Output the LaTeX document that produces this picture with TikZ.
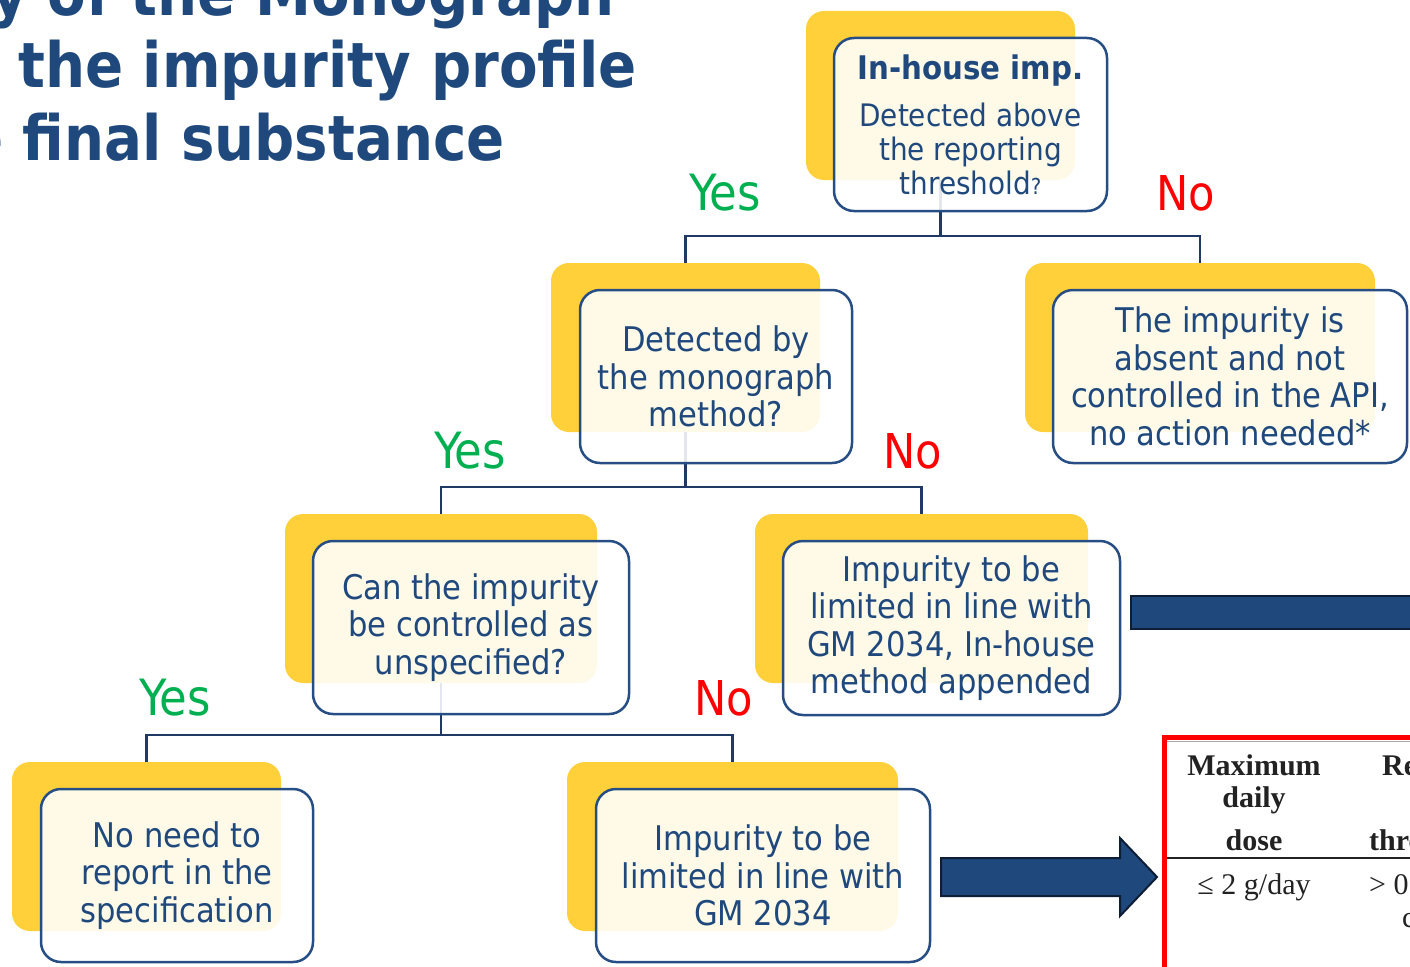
\documentclass[tikz,border=0pt]{standalone}
\usepackage{fontspec}
\setmainfont{DejaVu Sans Condensed}
\newfontfamily\tablefont{Liberation Serif}
\definecolor{txtblue}{HTML}{1F497D}
\definecolor{boxline}{HTML}{264E84}
\definecolor{connblue}{HTML}{1F3864}
\definecolor{boxyellow}{HTML}{FFD03A}
\definecolor{yesgreen}{HTML}{00B050}
\definecolor{nored}{HTML}{FF0000}
\definecolor{arrowfill}{HTML}{1F497D}
\definecolor{arrowedge}{HTML}{0E1E36}
\definecolor{tabtext}{HTML}{222222}
\begin{document}
\begin{tikzpicture}[x=1pt,y=-1pt,
  backbox/.style={fill=boxyellow, rounded corners=18pt, inner sep=0pt},
  frontbox/.style={draw=boxline, line width=2.5pt, fill=white, fill opacity=0.88,
    text opacity=1, rounded corners=20pt, text=txtblue, align=center, inner sep=0pt,
    font=\fontsize{34}{37.5}\selectfont},
  conn/.style={draw=connblue, line width=2.5pt},
  yeslbl/.style={text=yesgreen, inner sep=0pt, font=\fontsize{50}{54}\selectfont},
  nolbl/.style={text=nored, inner sep=0pt, font=\fontsize{48}{52}\selectfont},
  titleline/.style={text=txtblue, inner sep=0pt, anchor=base east,
    font=\bfseries\fontsize{62.5}{72}\selectfont},
  tabhead/.style={text=tabtext, inner sep=0pt, anchor=base,
    font=\tablefont\bfseries\fontsize{30}{33}\selectfont},
  tabbody/.style={text=tabtext, inner sep=0pt, anchor=base,
    font=\tablefont\fontsize{30}{33}\selectfont},
  blockarrow/.style={fill=arrowfill, draw=arrowedge, line width=2pt, line join=miter}
]
\useasboundingbox (0,0) rectangle (1410,966);
\clip (0,0) rectangle (1410,966);

% title
\node[titleline] (t1) at (615,16) {y of the Monograph};
\node[titleline] (t2) at (637,88) {the impurity profile};
\node[titleline] (t3) at (505,160) {e final substance};

% yellow backing panels
\node[backbox, minimum width=269pt, minimum height=169pt] (y1) at (940.5,95.5) {};
\node[backbox, minimum width=269pt, minimum height=169pt] (y2) at (685.5,347.5) {};
\node[backbox, minimum width=350pt, minimum height=169pt] (y3) at (1200,347.5) {};
\node[backbox, minimum width=312pt, minimum height=169pt] (y4) at (441,598.5) {};
\node[backbox, minimum width=333pt, minimum height=169pt] (y5) at (921.5,598.5) {};
\node[backbox, minimum width=269pt, minimum height=169pt] (y6) at (146.5,846.5) {};
\node[backbox, minimum width=331pt, minimum height=169pt] (y7) at (732.5,846.5) {};

% decision tree connectors
\coordinate (j1) at (940.5,236);
\coordinate (j2) at (685.5,487);
\coordinate (j3) at (441,735);
\draw[conn] (y1.south) -- (j1);
\draw[conn] (j1) -| (y2.north);
\draw[conn] (j1) -| (y3.north);
\draw[conn] (y2.south) -- (j2);
\draw[conn] (j2) -| (y4.north);
\draw[conn] (j2) -| (y5.north);
\draw[conn] (y4.south) -- (j3);
\draw[conn] (j3) -| (y6.north);
\draw[conn] (j3) -| (y7.north);

% question and outcome boxes
\node[frontbox, minimum width=273pt, minimum height=173pt,
  font=\fontsize{31}{34}\selectfont] (b1) at (970.5,124.5)
  {{\bfseries\fontsize{32.5}{34}\selectfont In-house imp.}\\[13pt]Detected above\\the reporting\\threshold{\fontsize{22}{24}\selectfont ?}};
\node[frontbox, minimum width=272pt, minimum height=173pt] (b2) at (716,376.5)
  {Detected by\\the monograph\\method?};
\node[frontbox, minimum width=354pt, minimum height=173pt] (b3) at (1230,376.5)
  {The impurity is\\absent and not\\controlled in the API,\\no action needed*};
\node[frontbox, minimum width=316pt, minimum height=173pt] (b4) at (471,627.5)
  {Can the impurity\\be controlled as\\unspecified?};
\node[frontbox, minimum width=337pt, minimum height=174pt] (b5) at (951.5,628)
  {Impurity to be\\limited in line with\\GM 2034, In-house\\method appended};
\node[frontbox, minimum width=272pt, minimum height=173pt] (b6) at (177,875.5)
  {No need to\\report in the\\specification};
\node[frontbox, minimum width=334pt, minimum height=173pt] (b7) at (763,875.5)
  {Impurity to be\\limited in line with\\GM 2034};

% branch labels
\node[yeslbl] (yes1) at (725,193) {Yes};
\node[nolbl] (no1) at (1186,193) {No};
\node[yeslbl] (yes2) at (470,451) {Yes};
\node[nolbl] (no2) at (913,451) {No};
\node[yeslbl] (yes3) at (175,698) {Yes};
\node[nolbl] (no3) at (724,698) {No};

% block arrows
\draw[blockarrow] (1131,596) -- (1430,596) -- (1430,629) -- (1131,629) -- cycle;
\draw[blockarrow] (941,858) -- (1120,858) -- (1120,838) -- (1157,877)
  -- (1120,916) -- (1120,896) -- (941,896) -- cycle;

% threshold table
\draw[gray!70, line width=1pt] (1166,741) -- (1420,741);
\draw[tabtext, line width=1.8pt] (1166,858) -- (1420,858);
\draw[nored, line width=5pt] (1164,1000) -- (1164,737) -- (1420,737);
\node[tabhead] (h1) at (1254,775) {Maximum};
\node[tabhead] (h2) at (1254,807) {daily};
\node[tabhead] (h3) at (1254,850) {dose};
\node[tabhead, anchor=base west] (h4) at (1382,775) {Reporting};
\node[tabhead, anchor=base west] (h5) at (1369,850) {threshold};
\node[tabbody] (r1) at (1254,894) {≤ 2 g/day};
\node[tabbody, anchor=base west] (r2) at (1369,894) {> 0.05 per};
\node[tabbody, anchor=base west] (r3) at (1402,927) {cent};
\end{tikzpicture}
\end{document}
